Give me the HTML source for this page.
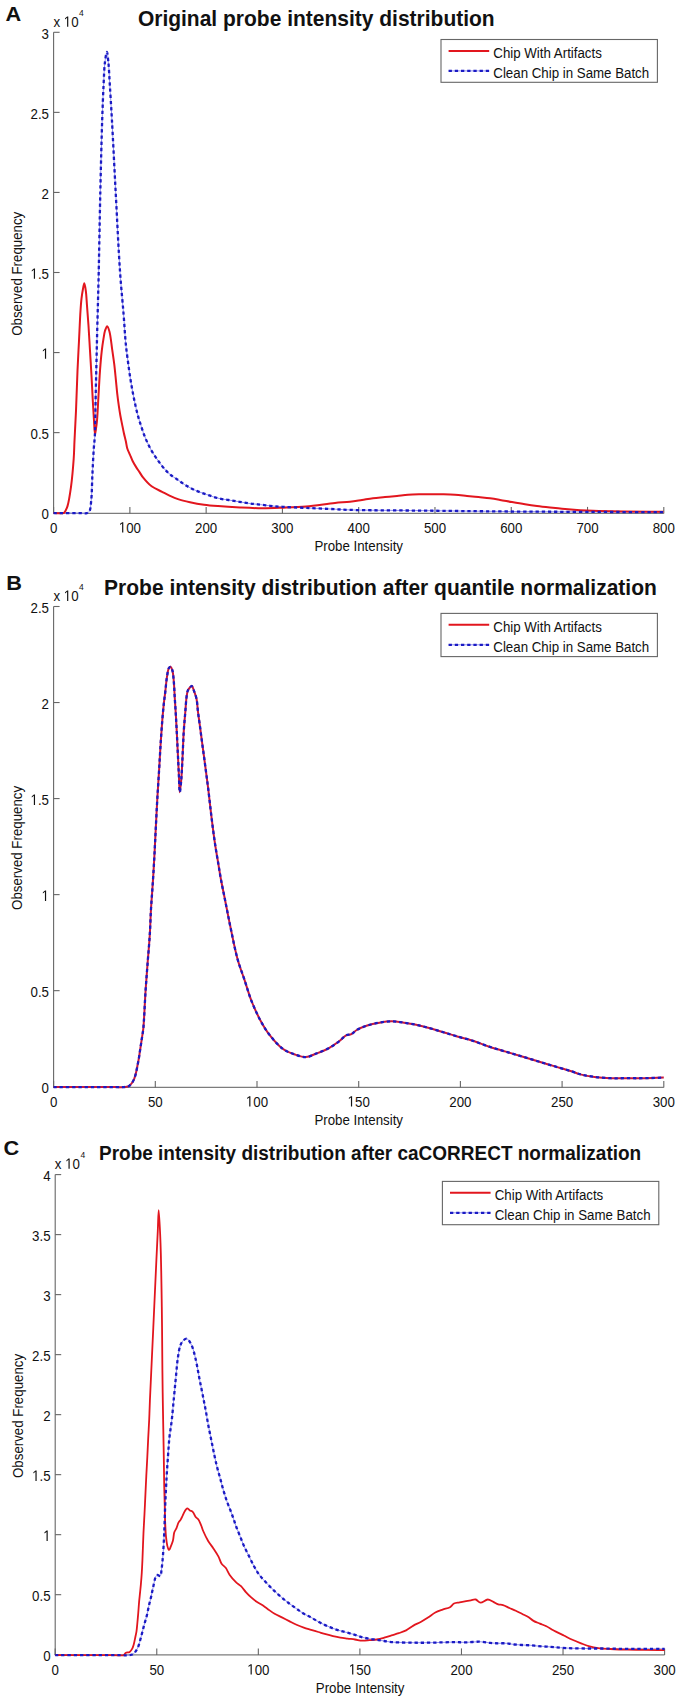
<!DOCTYPE html>
<html><head><meta charset="utf-8"><style>
html,body{margin:0;padding:0;background:#fff;}
svg{display:block;}
text{font-family:"Liberation Sans",sans-serif;font-size:13.3px;fill:#111;}
</style></head><body>
<svg width="685" height="1699" viewBox="0 0 685 1699">
<path d="M53.6,32.3V513.40" fill="none" stroke="#666" stroke-width="1.1"/>
<path d="M53.1,513.40H663.8" fill="none" stroke="#7c7c7c" stroke-width="1.3"/>
<path d="M53.6,512.70h6" stroke="#666" stroke-width="1.1"/>
<text transform="translate(49.00,519.00) scale(1,1.16)" text-anchor="end">0</text>
<path d="M53.6,432.63h6" stroke="#666" stroke-width="1.1"/>
<text transform="translate(49.00,438.93) scale(1,1.16)" text-anchor="end">0.5</text>
<path d="M53.6,352.57h6" stroke="#666" stroke-width="1.1"/>
<text transform="translate(41.60,358.87) scale(1,1.16)"> </text>
<path transform="translate(41.60,358.87) scale(0.006494,-0.007345)" d="M515 0V1237L197 1010V1180L530 1409H696V0Z" fill="#111"/>
<path d="M53.6,272.50h6" stroke="#666" stroke-width="1.1"/>
<text transform="translate(30.51,278.80) scale(1,1.16)"> .5</text>
<path transform="translate(30.51,278.80) scale(0.006494,-0.007345)" d="M515 0V1237L197 1010V1180L530 1409H696V0Z" fill="#111"/>
<path d="M53.6,192.43h6" stroke="#666" stroke-width="1.1"/>
<text transform="translate(49.00,198.73) scale(1,1.16)" text-anchor="end">2</text>
<path d="M53.6,112.37h6" stroke="#666" stroke-width="1.1"/>
<text transform="translate(49.00,118.67) scale(1,1.16)" text-anchor="end">2.5</text>
<path d="M53.6,32.30h6" stroke="#666" stroke-width="1.1"/>
<text transform="translate(49.00,38.60) scale(1,1.16)" text-anchor="end">3</text>
<path d="M53.60,513.40v-6.5" stroke="#666" stroke-width="1.1"/>
<text transform="translate(53.60,532.50) scale(1,1.16)" text-anchor="middle">0</text>
<path d="M129.88,513.40v-6.5" stroke="#666" stroke-width="1.1"/>
<text transform="translate(118.78,532.50) scale(1,1.16)"> 00</text>
<path transform="translate(118.78,532.50) scale(0.006494,-0.007345)" d="M515 0V1237L197 1010V1180L530 1409H696V0Z" fill="#111"/>
<path d="M206.15,513.40v-6.5" stroke="#666" stroke-width="1.1"/>
<text transform="translate(206.15,532.50) scale(1,1.16)" text-anchor="middle">200</text>
<path d="M282.42,513.40v-6.5" stroke="#666" stroke-width="1.1"/>
<text transform="translate(282.42,532.50) scale(1,1.16)" text-anchor="middle">300</text>
<path d="M358.70,513.40v-6.5" stroke="#666" stroke-width="1.1"/>
<text transform="translate(358.70,532.50) scale(1,1.16)" text-anchor="middle">400</text>
<path d="M434.97,513.40v-6.5" stroke="#666" stroke-width="1.1"/>
<text transform="translate(434.97,532.50) scale(1,1.16)" text-anchor="middle">500</text>
<path d="M511.25,513.40v-6.5" stroke="#666" stroke-width="1.1"/>
<text transform="translate(511.25,532.50) scale(1,1.16)" text-anchor="middle">600</text>
<path d="M587.52,513.40v-6.5" stroke="#666" stroke-width="1.1"/>
<text transform="translate(587.52,532.50) scale(1,1.16)" text-anchor="middle">700</text>
<path d="M663.80,513.40v-6.5" stroke="#666" stroke-width="1.1"/>
<text transform="translate(663.80,532.50) scale(1,1.16)" text-anchor="middle">800</text>
<text transform="translate(358.70,550.50) scale(1,1.16)" text-anchor="middle">Probe Intensity</text>
<text transform="translate(21.50,273.80) rotate(-90) scale(1,1.16)" text-anchor="middle">Observed Frequency</text>
<text transform="translate(53.40,26.80) scale(1,1.16)">x  0</text>
<path transform="translate(63.75,26.80) scale(0.006494,-0.007345)" d="M515 0V1237L197 1010V1180L530 1409H696V0Z" fill="#111"/>
<text transform="translate(79.00,15.70) scale(1,1.16)" style="font-size:8.5px">4</text>
<text transform="translate(137.90,26.30) scale(1,1.06)" style="font-weight:bold;font-size:21px">Original probe intensity distribution</text>
<text transform="translate(5.50,21.20) scale(1.06,1)" style="font-weight:bold;font-size:20.5px">A</text>
<path d="M53.60,513.10C62.40,513.10 74.07,513.10 80.00,513.10C83.01,513.10 85.12,513.60 86.80,513.10C87.94,512.76 88.72,512.43 89.40,511.40C90.65,509.49 90.73,505.21 91.20,500.90C91.93,494.13 91.97,483.37 92.40,474.60C92.83,465.83 93.31,455.29 93.80,448.30C94.12,443.65 94.57,440.88 94.80,436.70C95.07,431.80 95.06,426.86 95.20,420.70C95.39,412.26 95.58,400.70 95.80,390.70C96.02,380.70 96.27,370.70 96.50,360.70C96.73,350.70 96.95,340.70 97.20,330.70C97.45,320.70 97.75,310.53 98.00,300.70C98.25,291.21 98.44,284.43 98.70,272.70C99.15,252.88 99.70,218.77 100.30,192.70C100.87,167.76 101.54,139.45 102.20,119.50C102.65,105.70 103.09,94.80 103.60,84.50C104.01,76.35 104.16,68.57 104.90,62.60C105.42,58.41 106.32,51.99 106.90,52.00C107.48,52.01 107.97,58.42 108.40,62.60C109.01,68.58 109.29,76.35 109.80,84.50C110.44,94.80 111.13,105.70 111.90,119.50C113.02,139.45 114.37,167.76 115.70,192.70C117.09,218.78 118.55,250.33 120.10,272.70C121.22,288.88 122.64,302.18 123.60,314.50C124.36,324.25 124.94,334.29 125.50,340.70C125.82,344.42 126.03,346.28 126.40,349.50C126.86,353.44 127.52,358.23 128.10,362.60C128.68,366.97 129.24,371.33 129.90,375.70C130.57,380.10 131.30,384.51 132.10,388.90C132.90,393.28 133.75,397.63 134.70,402.00C135.65,406.40 136.66,410.98 137.80,415.20C138.87,419.16 140.02,422.75 141.30,426.60C142.64,430.61 143.98,434.77 145.70,438.80C147.47,442.94 149.56,447.23 151.80,451.10C153.95,454.81 156.40,458.30 158.80,461.60C161.07,464.71 163.69,468.09 165.80,470.40C167.32,472.06 168.35,473.05 170.00,474.40C172.05,476.07 174.87,477.80 177.30,479.50C179.73,481.20 182.13,483.05 184.60,484.60C187.00,486.11 189.44,487.47 191.90,488.70C194.30,489.90 196.75,490.93 199.20,491.90C201.62,492.86 204.06,493.65 206.50,494.50C208.93,495.35 211.35,496.26 213.80,497.00C216.22,497.73 218.65,498.40 221.10,498.90C223.52,499.40 225.97,499.62 228.40,500.00C230.83,500.38 233.27,500.80 235.70,501.20C238.13,501.60 240.57,502.00 243.00,502.40C245.43,502.80 247.86,503.28 250.30,503.60C252.73,503.92 254.85,504.00 257.60,504.30C261.19,504.69 265.85,505.38 270.00,505.80C274.18,506.22 277.75,506.49 282.60,506.80C289.20,507.22 297.77,507.52 306.00,507.90C315.19,508.32 327.10,508.83 335.20,509.20C340.96,509.46 343.24,509.71 350.00,509.90C364.70,510.32 395.20,510.35 420.00,510.60C448.12,510.88 476.02,511.25 510.00,511.50C554.38,511.82 612.33,511.97 663.50,512.20" fill="none" stroke="#9090f0" stroke-width="1"/>
<path d="M53.60,513.10C57.07,513.00 62.00,513.92 64.00,512.80C65.19,512.13 65.42,510.80 66.00,509.70C66.59,508.57 66.99,507.81 67.50,506.10C68.64,502.25 70.02,493.85 71.00,486.80C72.17,478.35 73.11,467.13 73.70,458.80C74.17,452.12 74.18,447.49 74.50,440.70C74.91,431.96 75.53,421.42 76.00,410.70C76.54,398.33 76.96,383.07 77.50,370.70C77.97,359.98 78.50,350.70 79.00,340.70C79.50,330.70 79.98,318.45 80.50,310.70C80.83,305.80 81.06,302.51 81.50,298.70C81.91,295.21 82.45,291.53 83.00,288.70C83.41,286.58 83.87,283.19 84.30,283.20C84.80,283.21 85.39,287.76 85.80,290.70C86.38,294.83 86.58,300.34 87.00,305.70C87.48,311.89 88.02,318.66 88.50,325.70C89.03,333.57 89.50,342.37 90.00,350.70C90.50,359.03 91.03,367.37 91.50,375.70C91.97,384.03 92.36,392.83 92.80,400.70C93.19,407.74 93.60,414.69 94.00,420.70C94.33,425.64 94.55,434.18 95.00,434.20C95.29,434.22 95.69,430.71 96.00,428.70C96.37,426.29 96.68,424.11 97.00,420.70C97.56,414.68 98.00,404.03 98.50,395.70C99.00,387.37 99.41,378.56 100.00,370.70C100.53,363.66 101.13,356.51 101.80,350.70C102.32,346.18 102.91,342.29 103.50,338.70C103.98,335.76 104.26,332.94 105.00,330.70C105.58,328.94 106.48,326.18 107.20,326.20C107.98,326.22 108.82,329.28 109.50,331.70C110.68,335.92 111.37,343.97 112.20,349.70C112.96,354.93 113.69,359.66 114.30,364.70C114.92,369.79 115.40,375.16 115.90,380.10C116.36,384.67 116.70,388.91 117.20,393.30C117.70,397.68 118.33,402.47 118.90,406.40C119.37,409.63 119.78,412.28 120.30,415.20C120.82,418.11 121.42,420.99 122.00,423.90C122.59,426.83 123.15,429.77 123.80,432.70C124.45,435.64 125.29,438.73 125.90,441.50C126.44,443.96 126.61,446.28 127.30,448.50C127.96,450.64 129.03,452.57 129.90,454.60C130.77,456.63 131.51,458.69 132.50,460.70C133.53,462.79 134.79,464.95 136.00,466.90C137.13,468.73 138.34,470.36 139.50,472.10C140.67,473.86 141.46,475.48 143.00,477.40C145.15,480.08 148.37,483.89 151.60,486.30C154.76,488.66 158.84,490.12 162.10,491.80C164.91,493.25 167.33,494.58 170.00,495.80C172.64,497.01 175.03,498.11 178.00,499.10C181.56,500.29 185.83,501.29 190.00,502.20C194.47,503.17 199.32,504.05 204.00,504.70C208.65,505.35 212.80,505.68 218.00,506.10C224.50,506.63 232.66,507.13 240.00,507.50C247.33,507.87 254.75,508.27 262.00,508.30C269.08,508.33 275.84,507.99 283.00,507.70C290.49,507.40 297.90,507.20 306.00,506.50C315.12,505.71 326.91,503.84 335.00,503.00C340.81,502.40 345.29,502.26 350.00,501.70C354.23,501.20 358.09,500.50 362.00,499.90C365.75,499.33 369.25,498.66 373.00,498.20C376.91,497.72 381.00,497.48 385.00,497.10C389.00,496.72 393.09,496.31 397.00,495.90C400.75,495.51 404.25,494.97 408.00,494.70C411.91,494.42 416.00,494.37 420.00,494.30C424.00,494.23 428.04,494.30 432.00,494.30C435.87,494.30 439.67,494.23 443.50,494.30C447.33,494.37 451.13,494.44 455.00,494.70C458.96,494.97 463.04,495.50 467.00,495.90C470.87,496.30 474.67,496.70 478.50,497.10C482.33,497.50 486.31,497.81 490.00,498.30C493.46,498.76 496.52,499.30 500.00,499.90C503.82,500.56 507.92,501.38 512.00,502.10C516.24,502.85 520.75,503.64 525.00,504.30C529.08,504.93 532.92,505.48 537.00,506.00C541.24,506.55 545.75,507.04 550.00,507.50C554.08,507.94 558.00,508.33 562.00,508.70C566.00,509.07 569.92,509.40 574.00,509.70C578.24,510.01 582.75,510.28 587.00,510.50C591.08,510.71 594.27,510.85 599.00,511.00C605.82,511.21 614.72,511.38 624.00,511.50C635.67,511.65 650.33,511.63 663.50,511.70" fill="none" stroke="#e2161e" stroke-width="2.0" stroke-linejoin="round"/>
<path d="M53.60,513.10C62.40,513.10 74.07,513.10 80.00,513.10C83.01,513.10 85.12,513.60 86.80,513.10C87.94,512.76 88.72,512.43 89.40,511.40C90.65,509.49 90.73,505.21 91.20,500.90C91.93,494.13 91.97,483.37 92.40,474.60C92.83,465.83 93.31,455.29 93.80,448.30C94.12,443.65 94.57,440.88 94.80,436.70C95.07,431.80 95.06,426.86 95.20,420.70C95.39,412.26 95.58,400.70 95.80,390.70C96.02,380.70 96.27,370.70 96.50,360.70C96.73,350.70 96.95,340.70 97.20,330.70C97.45,320.70 97.75,310.53 98.00,300.70C98.25,291.21 98.44,284.43 98.70,272.70C99.15,252.88 99.70,218.77 100.30,192.70C100.87,167.76 101.54,139.45 102.20,119.50C102.65,105.70 103.09,94.80 103.60,84.50C104.01,76.35 104.16,68.57 104.90,62.60C105.42,58.41 106.32,51.99 106.90,52.00C107.48,52.01 107.97,58.42 108.40,62.60C109.01,68.58 109.29,76.35 109.80,84.50C110.44,94.80 111.13,105.70 111.90,119.50C113.02,139.45 114.37,167.76 115.70,192.70C117.09,218.78 118.55,250.33 120.10,272.70C121.22,288.88 122.64,302.18 123.60,314.50C124.36,324.25 124.94,334.29 125.50,340.70C125.82,344.42 126.03,346.28 126.40,349.50C126.86,353.44 127.52,358.23 128.10,362.60C128.68,366.97 129.24,371.33 129.90,375.70C130.57,380.10 131.30,384.51 132.10,388.90C132.90,393.28 133.75,397.63 134.70,402.00C135.65,406.40 136.66,410.98 137.80,415.20C138.87,419.16 140.02,422.75 141.30,426.60C142.64,430.61 143.98,434.77 145.70,438.80C147.47,442.94 149.56,447.23 151.80,451.10C153.95,454.81 156.40,458.30 158.80,461.60C161.07,464.71 163.69,468.09 165.80,470.40C167.32,472.06 168.35,473.05 170.00,474.40C172.05,476.07 174.87,477.80 177.30,479.50C179.73,481.20 182.13,483.05 184.60,484.60C187.00,486.11 189.44,487.47 191.90,488.70C194.30,489.90 196.75,490.93 199.20,491.90C201.62,492.86 204.06,493.65 206.50,494.50C208.93,495.35 211.35,496.26 213.80,497.00C216.22,497.73 218.65,498.40 221.10,498.90C223.52,499.40 225.97,499.62 228.40,500.00C230.83,500.38 233.27,500.80 235.70,501.20C238.13,501.60 240.57,502.00 243.00,502.40C245.43,502.80 247.86,503.28 250.30,503.60C252.73,503.92 254.85,504.00 257.60,504.30C261.19,504.69 265.85,505.38 270.00,505.80C274.18,506.22 277.75,506.49 282.60,506.80C289.20,507.22 297.77,507.52 306.00,507.90C315.19,508.32 327.10,508.83 335.20,509.20C340.96,509.46 343.24,509.71 350.00,509.90C364.70,510.32 395.20,510.35 420.00,510.60C448.12,510.88 476.02,511.25 510.00,511.50C554.38,511.82 612.33,511.97 663.50,512.20" fill="none" stroke="#1a1ac4" stroke-width="2.3" stroke-dasharray="3.3 2.9"/>
<rect x="441" y="39.5" width="216.40" height="42.80" fill="#fff" stroke="#666" stroke-width="1.1"/>
<path d="M448.60,50.90h40.6" stroke="#e2161e" stroke-width="2.0"/>
<path d="M448.60,70.90h40.6" stroke="#9090f0" stroke-width="1"/>
<path d="M448.60,70.90h40.6" stroke="#1a1ac4" stroke-width="2.3" stroke-dasharray="3.3 2.9"/>
<text transform="translate(493.30,57.70) scale(1,1.16)">Chip With Artifacts</text>
<text transform="translate(493.30,78.00) scale(1,1.16)">Clean Chip in Same Batch</text>
<path d="M53.6,606.5V1087.40" fill="none" stroke="#666" stroke-width="1.1"/>
<path d="M53.1,1087.40H663.8" fill="none" stroke="#7c7c7c" stroke-width="1.3"/>
<path d="M53.6,1086.70h6" stroke="#666" stroke-width="1.1"/>
<text transform="translate(49.00,1093.00) scale(1,1.16)" text-anchor="end">0</text>
<path d="M53.6,990.66h6" stroke="#666" stroke-width="1.1"/>
<text transform="translate(49.00,996.96) scale(1,1.16)" text-anchor="end">0.5</text>
<path d="M53.6,894.62h6" stroke="#666" stroke-width="1.1"/>
<text transform="translate(41.60,900.92) scale(1,1.16)"> </text>
<path transform="translate(41.60,900.92) scale(0.006494,-0.007345)" d="M515 0V1237L197 1010V1180L530 1409H696V0Z" fill="#111"/>
<path d="M53.6,798.58h6" stroke="#666" stroke-width="1.1"/>
<text transform="translate(30.51,804.88) scale(1,1.16)"> .5</text>
<path transform="translate(30.51,804.88) scale(0.006494,-0.007345)" d="M515 0V1237L197 1010V1180L530 1409H696V0Z" fill="#111"/>
<path d="M53.6,702.54h6" stroke="#666" stroke-width="1.1"/>
<text transform="translate(49.00,708.84) scale(1,1.16)" text-anchor="end">2</text>
<path d="M53.6,606.50h6" stroke="#666" stroke-width="1.1"/>
<text transform="translate(49.00,612.80) scale(1,1.16)" text-anchor="end">2.5</text>
<path d="M53.60,1087.40v-6.5" stroke="#666" stroke-width="1.1"/>
<text transform="translate(53.60,1106.50) scale(1,1.16)" text-anchor="middle">0</text>
<path d="M155.30,1087.40v-6.5" stroke="#666" stroke-width="1.1"/>
<text transform="translate(155.30,1106.50) scale(1,1.16)" text-anchor="middle">50</text>
<path d="M257.00,1087.40v-6.5" stroke="#666" stroke-width="1.1"/>
<text transform="translate(245.90,1106.50) scale(1,1.16)"> 00</text>
<path transform="translate(245.90,1106.50) scale(0.006494,-0.007345)" d="M515 0V1237L197 1010V1180L530 1409H696V0Z" fill="#111"/>
<path d="M358.70,1087.40v-6.5" stroke="#666" stroke-width="1.1"/>
<text transform="translate(347.60,1106.50) scale(1,1.16)"> 50</text>
<path transform="translate(347.60,1106.50) scale(0.006494,-0.007345)" d="M515 0V1237L197 1010V1180L530 1409H696V0Z" fill="#111"/>
<path d="M460.40,1087.40v-6.5" stroke="#666" stroke-width="1.1"/>
<text transform="translate(460.40,1106.50) scale(1,1.16)" text-anchor="middle">200</text>
<path d="M562.10,1087.40v-6.5" stroke="#666" stroke-width="1.1"/>
<text transform="translate(562.10,1106.50) scale(1,1.16)" text-anchor="middle">250</text>
<path d="M663.80,1087.40v-6.5" stroke="#666" stroke-width="1.1"/>
<text transform="translate(663.80,1106.50) scale(1,1.16)" text-anchor="middle">300</text>
<text transform="translate(358.70,1124.60) scale(1,1.16)" text-anchor="middle">Probe Intensity</text>
<text transform="translate(21.50,847.90) rotate(-90) scale(1,1.16)" text-anchor="middle">Observed Frequency</text>
<text transform="translate(53.40,600.90) scale(1,1.16)">x  0</text>
<path transform="translate(63.75,600.90) scale(0.006494,-0.007345)" d="M515 0V1237L197 1010V1180L530 1409H696V0Z" fill="#111"/>
<text transform="translate(79.00,589.80) scale(1,1.16)" style="font-size:8.5px">4</text>
<text transform="translate(104.10,595.00) scale(1,1.06)" style="font-weight:bold;font-size:21px">Probe intensity distribution after quantile normalization</text>
<text transform="translate(6.30,589.60) scale(1.06,1)" style="font-weight:bold;font-size:20.5px">B</text>
<path d="M53.60,1087.10C74.40,1087.10 105.03,1087.10 116.00,1087.10C119.93,1087.10 122.09,1087.21 124.00,1087.10C125.07,1087.04 125.68,1086.98 126.50,1086.80C127.34,1086.62 128.20,1086.50 129.00,1086.00C130.01,1085.37 131.06,1084.13 131.90,1083.00C132.77,1081.83 133.47,1080.57 134.10,1079.10C134.84,1077.39 135.37,1075.36 135.90,1073.30C136.49,1071.02 136.92,1068.43 137.40,1066.00C137.88,1063.57 138.38,1061.14 138.80,1058.70C139.22,1056.27 139.53,1053.83 139.90,1051.40C140.27,1048.97 140.63,1046.53 141.00,1044.10C141.37,1041.67 141.73,1039.30 142.10,1036.80C142.49,1034.17 142.91,1032.41 143.30,1028.70C144.14,1020.64 144.82,1001.91 145.60,990.20C146.26,980.37 146.92,972.12 147.60,963.10C148.28,954.09 149.13,945.11 149.70,936.10C150.27,927.08 150.51,917.38 151.00,909.00C151.42,901.74 151.95,895.47 152.40,888.70C152.85,881.93 153.30,875.17 153.70,868.40C154.10,861.63 154.45,854.87 154.80,848.10C155.15,841.33 155.43,835.05 155.80,827.80C156.22,819.42 156.67,810.14 157.20,800.70C157.79,790.36 158.59,778.38 159.20,768.20C159.74,759.19 160.17,750.93 160.70,742.70C161.20,734.96 161.74,727.11 162.30,720.20C162.78,714.30 163.26,708.86 163.80,703.80C164.27,699.43 164.80,695.83 165.30,691.60C165.84,687.02 166.21,681.53 166.90,677.30C167.46,673.88 167.94,669.71 168.90,668.10C169.34,667.36 169.92,666.72 170.40,666.80C171.07,666.91 171.80,668.63 172.30,670.10C173.12,672.51 173.32,676.49 173.70,680.30C174.18,685.11 174.36,691.15 174.70,696.70C175.05,702.41 175.45,708.23 175.80,714.10C176.15,720.12 176.48,726.13 176.80,732.40C177.14,739.04 177.47,746.08 177.80,752.90C178.13,759.71 178.46,766.63 178.80,773.30C179.13,779.72 179.32,792.18 179.80,792.20C180.18,792.21 180.80,785.04 181.20,780.50C181.76,774.22 182.09,765.74 182.50,758.00C182.93,749.74 183.20,740.45 183.70,732.40C184.15,725.21 184.78,718.31 185.30,712.00C185.75,706.53 186.05,700.64 186.60,696.70C186.95,694.20 187.12,692.24 187.80,690.60C188.33,689.33 189.14,688.30 189.90,687.50C190.52,686.85 191.31,685.85 191.90,686.00C192.73,686.22 193.23,688.83 193.90,690.60C194.77,692.90 195.84,695.63 196.50,698.70C197.33,702.55 197.43,707.42 198.00,712.00C198.62,716.93 199.42,722.19 200.10,727.30C200.78,732.42 201.42,737.58 202.10,742.70C202.78,747.81 203.52,752.90 204.20,758.00C204.88,763.10 205.53,768.19 206.20,773.30C206.87,778.42 207.47,782.78 208.20,788.70C209.19,796.75 210.34,807.88 211.50,817.20C212.62,826.20 213.76,835.37 215.00,843.70C216.11,851.17 217.43,858.47 218.50,864.90C219.40,870.28 220.02,874.40 221.00,879.70C222.14,885.87 223.56,892.50 225.00,899.70C226.69,908.16 228.50,917.80 230.50,927.30C232.64,937.49 234.90,949.50 237.50,958.90C239.65,966.67 242.17,972.89 244.50,979.90C246.84,986.92 248.82,994.20 251.50,1001.00C254.11,1007.62 257.17,1014.38 260.30,1020.20C263.08,1025.36 265.55,1029.73 269.10,1034.30C273.02,1039.35 278.25,1045.54 283.10,1049.00C287.04,1051.82 291.32,1053.23 295.30,1054.60C298.87,1055.83 302.32,1057.26 305.80,1057.10C309.35,1056.93 312.77,1054.89 316.40,1053.50C320.35,1051.99 324.78,1050.37 328.60,1048.30C332.33,1046.28 336.02,1043.64 339.10,1041.30C341.74,1039.30 343.78,1036.46 346.10,1035.30C347.88,1034.41 349.72,1034.89 351.40,1034.10C353.27,1033.22 354.54,1031.27 356.70,1030.00C359.52,1028.34 363.51,1026.70 367.20,1025.50C371.06,1024.24 375.31,1023.40 379.40,1022.70C383.47,1022.00 387.60,1021.30 391.70,1021.30C395.80,1021.30 399.92,1022.12 404.00,1022.70C408.08,1023.28 412.01,1023.92 416.20,1024.80C420.72,1025.75 425.55,1027.02 430.20,1028.30C434.88,1029.59 439.69,1031.14 444.20,1032.50C448.41,1033.77 452.02,1034.93 456.40,1036.20C461.48,1037.68 467.44,1039.06 472.90,1040.80C478.41,1042.56 483.81,1044.89 489.30,1046.70C494.74,1048.49 500.23,1049.97 505.70,1051.60C511.17,1053.23 516.63,1054.85 522.10,1056.50C527.59,1058.15 533.11,1059.85 538.60,1061.50C544.07,1063.15 549.53,1064.77 555.00,1066.40C560.47,1068.03 566.63,1069.79 571.40,1071.30C575.12,1072.48 577.73,1073.70 581.30,1074.60C585.33,1075.62 589.77,1076.31 594.40,1076.90C599.55,1077.55 605.32,1077.98 610.80,1078.20C616.29,1078.42 621.81,1078.20 627.30,1078.20C632.77,1078.20 637.96,1078.29 643.70,1078.20C650.06,1078.11 657.10,1077.80 663.80,1077.60" fill="none" stroke="#c8183c" stroke-width="2.0" stroke-linejoin="round"/>
<path d="M53.60,1087.10C74.40,1087.10 105.03,1087.10 116.00,1087.10C119.93,1087.10 122.09,1087.21 124.00,1087.10C125.07,1087.04 125.68,1086.98 126.50,1086.80C127.34,1086.62 128.20,1086.50 129.00,1086.00C130.01,1085.37 131.06,1084.13 131.90,1083.00C132.77,1081.83 133.47,1080.57 134.10,1079.10C134.84,1077.39 135.37,1075.36 135.90,1073.30C136.49,1071.02 136.92,1068.43 137.40,1066.00C137.88,1063.57 138.38,1061.14 138.80,1058.70C139.22,1056.27 139.53,1053.83 139.90,1051.40C140.27,1048.97 140.63,1046.53 141.00,1044.10C141.37,1041.67 141.73,1039.30 142.10,1036.80C142.49,1034.17 142.91,1032.41 143.30,1028.70C144.14,1020.64 144.82,1001.91 145.60,990.20C146.26,980.37 146.92,972.12 147.60,963.10C148.28,954.09 149.13,945.11 149.70,936.10C150.27,927.08 150.51,917.38 151.00,909.00C151.42,901.74 151.95,895.47 152.40,888.70C152.85,881.93 153.30,875.17 153.70,868.40C154.10,861.63 154.45,854.87 154.80,848.10C155.15,841.33 155.43,835.05 155.80,827.80C156.22,819.42 156.67,810.14 157.20,800.70C157.79,790.36 158.59,778.38 159.20,768.20C159.74,759.19 160.17,750.93 160.70,742.70C161.20,734.96 161.74,727.11 162.30,720.20C162.78,714.30 163.26,708.86 163.80,703.80C164.27,699.43 164.80,695.83 165.30,691.60C165.84,687.02 166.21,681.53 166.90,677.30C167.46,673.88 167.94,669.71 168.90,668.10C169.34,667.36 169.92,666.72 170.40,666.80C171.07,666.91 171.80,668.63 172.30,670.10C173.12,672.51 173.32,676.49 173.70,680.30C174.18,685.11 174.36,691.15 174.70,696.70C175.05,702.41 175.45,708.23 175.80,714.10C176.15,720.12 176.48,726.13 176.80,732.40C177.14,739.04 177.47,746.08 177.80,752.90C178.13,759.71 178.46,766.63 178.80,773.30C179.13,779.72 179.32,792.18 179.80,792.20C180.18,792.21 180.80,785.04 181.20,780.50C181.76,774.22 182.09,765.74 182.50,758.00C182.93,749.74 183.20,740.45 183.70,732.40C184.15,725.21 184.78,718.31 185.30,712.00C185.75,706.53 186.05,700.64 186.60,696.70C186.95,694.20 187.12,692.24 187.80,690.60C188.33,689.33 189.14,688.30 189.90,687.50C190.52,686.85 191.31,685.85 191.90,686.00C192.73,686.22 193.23,688.83 193.90,690.60C194.77,692.90 195.84,695.63 196.50,698.70C197.33,702.55 197.43,707.42 198.00,712.00C198.62,716.93 199.42,722.19 200.10,727.30C200.78,732.42 201.42,737.58 202.10,742.70C202.78,747.81 203.52,752.90 204.20,758.00C204.88,763.10 205.53,768.19 206.20,773.30C206.87,778.42 207.47,782.78 208.20,788.70C209.19,796.75 210.34,807.88 211.50,817.20C212.62,826.20 213.76,835.37 215.00,843.70C216.11,851.17 217.43,858.47 218.50,864.90C219.40,870.28 220.02,874.40 221.00,879.70C222.14,885.87 223.56,892.50 225.00,899.70C226.69,908.16 228.50,917.80 230.50,927.30C232.64,937.49 234.90,949.50 237.50,958.90C239.65,966.67 242.17,972.89 244.50,979.90C246.84,986.92 248.82,994.20 251.50,1001.00C254.11,1007.62 257.17,1014.38 260.30,1020.20C263.08,1025.36 265.55,1029.73 269.10,1034.30C273.02,1039.35 278.25,1045.54 283.10,1049.00C287.04,1051.82 291.32,1053.23 295.30,1054.60C298.87,1055.83 302.32,1057.26 305.80,1057.10C309.35,1056.93 312.77,1054.89 316.40,1053.50C320.35,1051.99 324.78,1050.37 328.60,1048.30C332.33,1046.28 336.02,1043.64 339.10,1041.30C341.74,1039.30 343.78,1036.46 346.10,1035.30C347.88,1034.41 349.72,1034.89 351.40,1034.10C353.27,1033.22 354.54,1031.27 356.70,1030.00C359.52,1028.34 363.51,1026.70 367.20,1025.50C371.06,1024.24 375.31,1023.40 379.40,1022.70C383.47,1022.00 387.60,1021.30 391.70,1021.30C395.80,1021.30 399.92,1022.12 404.00,1022.70C408.08,1023.28 412.01,1023.92 416.20,1024.80C420.72,1025.75 425.55,1027.02 430.20,1028.30C434.88,1029.59 439.69,1031.14 444.20,1032.50C448.41,1033.77 452.02,1034.93 456.40,1036.20C461.48,1037.68 467.44,1039.06 472.90,1040.80C478.41,1042.56 483.81,1044.89 489.30,1046.70C494.74,1048.49 500.23,1049.97 505.70,1051.60C511.17,1053.23 516.63,1054.85 522.10,1056.50C527.59,1058.15 533.11,1059.85 538.60,1061.50C544.07,1063.15 549.53,1064.77 555.00,1066.40C560.47,1068.03 566.63,1069.79 571.40,1071.30C575.12,1072.48 577.73,1073.70 581.30,1074.60C585.33,1075.62 589.77,1076.31 594.40,1076.90C599.55,1077.55 605.32,1077.98 610.80,1078.20C616.29,1078.42 621.81,1078.20 627.30,1078.20C632.77,1078.20 637.96,1078.29 643.70,1078.20C650.06,1078.11 657.10,1077.80 663.80,1077.60" fill="none" stroke="#1a1ac4" stroke-width="2.3" stroke-dasharray="3.3 2.9"/>
<rect x="441" y="613.4" width="216.40" height="43.20" fill="#fff" stroke="#666" stroke-width="1.1"/>
<path d="M448.60,624.80h40.6" stroke="#e2161e" stroke-width="2.0"/>
<path d="M448.60,644.80h40.6" stroke="#9090f0" stroke-width="1"/>
<path d="M448.60,644.80h40.6" stroke="#1a1ac4" stroke-width="2.3" stroke-dasharray="3.3 2.9"/>
<text transform="translate(493.30,631.60) scale(1,1.16)">Chip With Artifacts</text>
<text transform="translate(493.30,651.90) scale(1,1.16)">Clean Chip in Same Batch</text>
<path d="M55.2,1174.6V1654.90" fill="none" stroke="#666" stroke-width="1.1"/>
<path d="M54.7,1654.90H664.6" fill="none" stroke="#7c7c7c" stroke-width="1.3"/>
<path d="M55.2,1654.70h6" stroke="#666" stroke-width="1.1"/>
<text transform="translate(50.60,1661.00) scale(1,1.16)" text-anchor="end">0</text>
<path d="M55.2,1594.69h6" stroke="#666" stroke-width="1.1"/>
<text transform="translate(50.60,1600.99) scale(1,1.16)" text-anchor="end">0.5</text>
<path d="M55.2,1534.67h6" stroke="#666" stroke-width="1.1"/>
<text transform="translate(43.20,1540.97) scale(1,1.16)"> </text>
<path transform="translate(43.20,1540.97) scale(0.006494,-0.007345)" d="M515 0V1237L197 1010V1180L530 1409H696V0Z" fill="#111"/>
<path d="M55.2,1474.66h6" stroke="#666" stroke-width="1.1"/>
<text transform="translate(32.11,1480.96) scale(1,1.16)"> .5</text>
<path transform="translate(32.11,1480.96) scale(0.006494,-0.007345)" d="M515 0V1237L197 1010V1180L530 1409H696V0Z" fill="#111"/>
<path d="M55.2,1414.65h6" stroke="#666" stroke-width="1.1"/>
<text transform="translate(50.60,1420.95) scale(1,1.16)" text-anchor="end">2</text>
<path d="M55.2,1354.64h6" stroke="#666" stroke-width="1.1"/>
<text transform="translate(50.60,1360.94) scale(1,1.16)" text-anchor="end">2.5</text>
<path d="M55.2,1294.62h6" stroke="#666" stroke-width="1.1"/>
<text transform="translate(50.60,1300.92) scale(1,1.16)" text-anchor="end">3</text>
<path d="M55.2,1234.61h6" stroke="#666" stroke-width="1.1"/>
<text transform="translate(50.60,1240.91) scale(1,1.16)" text-anchor="end">3.5</text>
<path d="M55.2,1174.60h6" stroke="#666" stroke-width="1.1"/>
<text transform="translate(50.60,1180.90) scale(1,1.16)" text-anchor="end">4</text>
<path d="M55.20,1654.90v-6.5" stroke="#666" stroke-width="1.1"/>
<text transform="translate(55.20,1674.50) scale(1,1.16)" text-anchor="middle">0</text>
<path d="M156.77,1654.90v-6.5" stroke="#666" stroke-width="1.1"/>
<text transform="translate(156.77,1674.50) scale(1,1.16)" text-anchor="middle">50</text>
<path d="M258.33,1654.90v-6.5" stroke="#666" stroke-width="1.1"/>
<text transform="translate(247.24,1674.50) scale(1,1.16)"> 00</text>
<path transform="translate(247.24,1674.50) scale(0.006494,-0.007345)" d="M515 0V1237L197 1010V1180L530 1409H696V0Z" fill="#111"/>
<path d="M359.90,1654.90v-6.5" stroke="#666" stroke-width="1.1"/>
<text transform="translate(348.80,1674.50) scale(1,1.16)"> 50</text>
<path transform="translate(348.80,1674.50) scale(0.006494,-0.007345)" d="M515 0V1237L197 1010V1180L530 1409H696V0Z" fill="#111"/>
<path d="M461.47,1654.90v-6.5" stroke="#666" stroke-width="1.1"/>
<text transform="translate(461.47,1674.50) scale(1,1.16)" text-anchor="middle">200</text>
<path d="M563.03,1654.90v-6.5" stroke="#666" stroke-width="1.1"/>
<text transform="translate(563.03,1674.50) scale(1,1.16)" text-anchor="middle">250</text>
<path d="M664.60,1654.90v-6.5" stroke="#666" stroke-width="1.1"/>
<text transform="translate(664.60,1674.50) scale(1,1.16)" text-anchor="middle">300</text>
<text transform="translate(360.10,1692.50) scale(1,1.16)" text-anchor="middle">Probe Intensity</text>
<text transform="translate(22.90,1415.95) rotate(-90) scale(1,1.16)" text-anchor="middle">Observed Frequency</text>
<text transform="translate(54.80,1168.80) scale(1,1.16)">x  0</text>
<path transform="translate(65.15,1168.80) scale(0.006494,-0.007345)" d="M515 0V1237L197 1010V1180L530 1409H696V0Z" fill="#111"/>
<text transform="translate(80.40,1157.70) scale(1,1.16)" style="font-size:8.5px">4</text>
<text transform="translate(99.00,1159.60) scale(1,1.06)" style="font-weight:bold;font-size:19px">Probe intensity distribution after caCORRECT normalization</text>
<text transform="translate(3.50,1155.20) scale(1.06,1)" style="font-weight:bold;font-size:20.5px">C</text>
<path d="M55.20,1655.20C77.13,1655.20 109.61,1655.20 121.00,1655.20C125.00,1655.20 126.85,1655.56 129.10,1655.20C130.78,1654.93 132.11,1654.73 133.40,1653.80C135.02,1652.63 136.42,1650.44 137.60,1648.10C139.13,1645.07 140.03,1640.58 141.10,1636.80C142.16,1633.05 143.02,1629.14 144.00,1625.50C144.92,1622.09 145.98,1618.91 146.80,1615.60C147.61,1612.31 148.17,1608.86 148.90,1605.70C149.57,1602.78 150.33,1600.22 151.00,1597.30C151.73,1594.14 152.30,1590.80 153.10,1587.40C153.96,1583.75 154.87,1577.83 156.00,1576.10C156.44,1575.42 156.82,1575.08 157.40,1575.00C158.15,1574.89 159.51,1576.48 160.20,1576.10C161.26,1575.52 161.19,1571.78 161.60,1569.00C162.18,1565.11 162.60,1560.08 163.00,1554.90C163.49,1548.56 163.85,1541.27 164.20,1533.70C164.60,1524.97 164.80,1514.91 165.20,1505.50C165.60,1496.07 166.09,1485.95 166.60,1477.20C167.04,1469.62 167.51,1462.81 168.00,1456.00C168.45,1449.67 168.77,1443.68 169.40,1437.70C170.01,1431.92 171.00,1426.80 171.70,1420.70C172.52,1413.64 173.19,1405.15 173.90,1397.80C174.56,1390.99 175.15,1384.67 175.80,1378.10C176.45,1371.53 176.92,1364.28 177.80,1358.40C178.52,1353.57 179.13,1348.57 180.40,1345.30C181.25,1343.11 182.23,1341.30 183.50,1340.20C184.52,1339.32 185.88,1338.38 187.00,1338.70C188.63,1339.17 190.30,1342.60 191.60,1345.30C193.30,1348.82 194.28,1353.42 195.50,1358.40C197.07,1364.82 198.60,1374.71 199.80,1380.70C200.61,1384.76 201.22,1387.50 201.90,1390.90C202.58,1394.30 203.23,1397.69 203.90,1401.10C204.57,1404.52 205.24,1407.82 205.90,1411.40C206.61,1415.29 207.29,1419.72 208.00,1423.60C208.65,1427.16 209.32,1430.39 210.00,1433.80C210.69,1437.23 211.37,1440.52 212.10,1444.10C212.90,1447.99 213.73,1452.32 214.60,1456.30C215.44,1460.14 216.25,1463.85 217.20,1467.60C218.15,1471.35 219.28,1475.06 220.30,1478.80C221.32,1482.53 222.21,1486.27 223.30,1490.00C224.41,1493.77 225.64,1497.75 226.90,1501.30C228.05,1504.54 229.37,1507.52 230.50,1510.50C231.56,1513.31 232.57,1516.05 233.50,1518.70C234.36,1521.17 234.95,1523.31 235.90,1525.90C237.05,1529.02 238.63,1532.70 240.00,1536.10C241.37,1539.50 242.59,1542.92 244.10,1546.30C245.65,1549.76 247.50,1553.18 249.20,1556.60C250.90,1560.01 252.52,1563.64 254.30,1566.80C255.93,1569.70 257.39,1572.22 259.40,1574.90C261.64,1577.89 264.68,1581.02 267.30,1583.80C269.74,1586.39 272.14,1588.76 274.60,1591.10C277.00,1593.39 279.43,1595.61 281.90,1597.70C284.30,1599.74 286.74,1601.65 289.20,1603.50C291.61,1605.31 294.06,1606.98 296.50,1608.70C298.93,1610.41 301.31,1612.33 303.80,1613.80C306.18,1615.21 308.69,1616.08 311.10,1617.40C313.56,1618.75 315.94,1620.45 318.40,1621.80C320.81,1623.12 323.25,1624.29 325.70,1625.40C328.11,1626.49 330.55,1627.50 333.00,1628.40C335.42,1629.29 337.86,1630.08 340.30,1630.80C342.72,1631.51 345.16,1632.04 347.60,1632.70C350.06,1633.37 352.55,1634.03 355.00,1634.80C357.45,1635.57 359.85,1636.63 362.30,1637.30C364.71,1637.96 367.16,1638.38 369.60,1638.80C372.03,1639.22 374.47,1639.43 376.90,1639.80C379.34,1640.17 381.77,1640.62 384.20,1641.00C386.63,1641.38 389.06,1641.87 391.50,1642.10C393.93,1642.33 395.95,1642.31 398.80,1642.40C402.83,1642.52 408.53,1642.65 413.40,1642.70C418.27,1642.75 423.13,1642.75 428.00,1642.70C432.87,1642.65 437.93,1642.50 442.60,1642.40C446.90,1642.30 450.98,1642.09 455.00,1642.10C458.80,1642.11 462.21,1642.45 466.10,1642.40C470.40,1642.35 475.48,1641.57 479.70,1641.70C483.40,1641.82 486.85,1642.63 490.10,1642.90C492.96,1643.14 495.51,1643.23 498.20,1643.30C500.87,1643.37 503.54,1643.10 506.20,1643.30C508.87,1643.50 511.52,1644.22 514.20,1644.50C516.89,1644.78 519.61,1644.87 522.30,1645.00C524.97,1645.13 527.64,1645.12 530.30,1645.30C532.97,1645.48 535.62,1645.88 538.30,1646.10C540.99,1646.32 543.71,1646.42 546.40,1646.60C549.08,1646.78 551.42,1646.98 554.40,1647.20C558.17,1647.47 562.61,1647.89 567.20,1648.10C572.53,1648.35 578.74,1648.43 584.50,1648.50C590.24,1648.57 595.97,1648.45 601.70,1648.50C607.43,1648.55 613.17,1648.75 618.90,1648.80C624.63,1648.85 630.36,1648.80 636.10,1648.80C641.86,1648.80 648.26,1648.80 653.40,1648.80C657.54,1648.80 660.87,1648.80 664.60,1648.80" fill="none" stroke="#9090f0" stroke-width="1"/>
<path d="M55.20,1655.20C74.47,1655.17 101.37,1655.11 113.00,1655.10C118.03,1655.10 121.81,1656.04 123.80,1655.10C124.82,1654.62 124.76,1653.43 125.60,1652.90C126.62,1652.26 128.60,1652.60 129.70,1651.90C130.75,1651.23 131.44,1650.07 132.10,1648.90C132.85,1647.56 133.30,1645.94 133.80,1644.20C134.40,1642.12 134.83,1639.43 135.30,1637.20C135.73,1635.15 136.17,1633.47 136.50,1631.30C136.90,1628.67 137.12,1625.44 137.40,1622.50C137.68,1619.54 137.94,1616.77 138.20,1613.60C138.50,1609.97 138.78,1605.52 139.10,1601.90C139.38,1598.76 139.70,1596.04 140.00,1593.10C140.30,1590.14 140.62,1587.37 140.90,1584.20C141.22,1580.57 141.55,1576.41 141.80,1572.50C142.05,1568.58 142.19,1565.48 142.40,1560.70C142.73,1553.32 143.11,1540.95 143.50,1532.50C143.82,1525.60 144.18,1519.97 144.50,1513.70C144.82,1507.43 145.10,1501.17 145.40,1494.90C145.70,1488.61 145.98,1482.29 146.30,1476.00C146.62,1469.72 146.98,1463.47 147.30,1457.20C147.62,1450.93 147.88,1444.67 148.20,1438.40C148.52,1432.11 148.92,1425.79 149.20,1419.50C149.48,1413.23 149.55,1409.01 149.90,1400.70C150.59,1384.32 152.20,1351.60 153.30,1327.70C154.36,1304.63 155.56,1277.61 156.40,1259.70C156.95,1248.00 157.39,1239.53 157.80,1230.70C158.14,1223.28 158.32,1210.20 158.70,1210.20C159.18,1210.20 160.02,1230.04 160.50,1242.70C161.17,1260.45 161.48,1285.41 161.80,1306.70C162.12,1327.91 162.20,1352.87 162.40,1370.20C162.54,1382.21 162.65,1390.73 162.80,1400.70C162.95,1410.28 163.13,1419.49 163.30,1428.90C163.47,1438.32 163.65,1447.77 163.80,1457.20C163.95,1466.61 164.03,1476.94 164.20,1485.40C164.34,1492.33 164.53,1498.01 164.70,1504.30C164.87,1510.57 164.95,1517.34 165.20,1523.10C165.41,1528.00 165.59,1532.64 166.00,1536.70C166.34,1540.02 166.74,1543.36 167.30,1545.70C167.68,1547.26 168.09,1549.01 168.60,1549.50C168.82,1549.71 169.07,1549.81 169.30,1549.70C169.81,1549.46 170.28,1547.65 170.80,1546.40C171.47,1544.79 172.34,1542.89 172.90,1540.80C173.57,1538.29 173.53,1534.59 174.30,1532.30C174.87,1530.60 175.82,1529.63 176.50,1528.10C177.27,1526.37 177.77,1523.92 178.60,1522.40C179.23,1521.25 180.05,1520.67 180.70,1519.60C181.46,1518.35 182.10,1516.72 182.80,1515.30C183.50,1513.89 184.12,1512.32 184.90,1511.10C185.58,1510.03 186.26,1508.41 187.10,1508.30C187.93,1508.19 188.94,1509.81 189.90,1510.40C190.81,1510.96 191.87,1511.01 192.70,1511.80C193.82,1512.87 194.45,1515.43 195.50,1516.80C196.38,1517.95 197.54,1518.40 198.40,1519.60C199.50,1521.13 200.38,1523.55 201.20,1525.50C201.97,1527.35 202.30,1528.92 203.20,1531.00C204.45,1533.91 206.48,1538.16 208.30,1541.20C209.90,1543.88 211.74,1545.90 213.40,1548.40C215.14,1551.02 217.09,1553.91 218.50,1556.60C219.76,1559.01 220.27,1561.76 221.60,1563.70C222.75,1565.38 224.44,1566.15 225.70,1567.80C227.19,1569.76 228.09,1572.60 229.70,1574.90C231.44,1577.38 233.84,1580.11 235.90,1582.10C237.61,1583.75 239.38,1584.61 241.00,1586.20C242.79,1587.96 244.36,1590.39 246.10,1592.30C247.76,1594.12 249.46,1595.84 251.20,1597.40C252.86,1598.89 254.56,1600.28 256.30,1601.50C257.96,1602.67 259.66,1603.47 261.40,1604.60C263.31,1605.84 265.23,1607.26 267.30,1608.70C269.60,1610.31 272.11,1612.33 274.60,1613.80C276.98,1615.21 279.47,1616.19 281.90,1617.40C284.34,1618.62 286.76,1619.88 289.20,1621.10C291.63,1622.31 294.04,1623.61 296.50,1624.70C298.91,1625.77 301.35,1626.75 303.80,1627.60C306.22,1628.44 308.67,1629.07 311.10,1629.80C313.53,1630.53 315.97,1631.27 318.40,1632.00C320.83,1632.73 323.26,1633.52 325.70,1634.20C328.13,1634.88 330.56,1635.53 333.00,1636.10C335.43,1636.66 337.86,1637.18 340.30,1637.60C342.73,1638.02 345.16,1638.28 347.60,1638.60C350.06,1638.92 352.55,1639.15 355.00,1639.50C357.45,1639.85 359.86,1640.58 362.30,1640.70C364.73,1640.81 367.17,1640.40 369.60,1640.20C372.03,1640.00 374.48,1639.91 376.90,1639.50C379.35,1639.08 381.78,1638.38 384.20,1637.70C386.64,1637.01 389.06,1636.15 391.50,1635.40C393.93,1634.65 396.38,1634.03 398.80,1633.20C401.25,1632.36 403.73,1631.62 406.10,1630.40C408.60,1629.12 410.92,1627.02 413.40,1625.60C415.79,1624.23 418.29,1623.32 420.70,1622.00C423.16,1620.65 425.59,1619.16 428.00,1617.60C430.46,1616.00 432.79,1613.85 435.30,1612.50C437.66,1611.23 440.14,1610.49 442.60,1609.60C445.04,1608.72 448.01,1608.37 450.00,1607.20C451.67,1606.22 452.43,1604.32 454.00,1603.50C455.61,1602.66 457.66,1602.69 459.60,1602.30C461.68,1601.88 464.10,1601.45 466.10,1601.10C467.82,1600.80 469.30,1600.57 470.90,1600.30C472.50,1600.03 474.16,1599.17 475.70,1599.50C477.37,1599.86 478.69,1602.55 480.50,1602.70C482.61,1602.88 485.44,1599.52 487.70,1599.50C489.71,1599.48 491.59,1601.07 493.40,1601.90C495.08,1602.67 496.56,1603.77 498.20,1604.30C499.76,1604.81 501.32,1604.59 503.00,1605.10C505.02,1605.71 507.26,1607.05 509.40,1608.00C511.53,1608.95 513.67,1609.81 515.80,1610.80C517.97,1611.81 520.14,1612.93 522.30,1614.00C524.44,1615.06 526.77,1615.99 528.70,1617.20C530.47,1618.31 531.71,1619.86 533.50,1620.90C535.42,1622.02 537.76,1622.70 539.90,1623.60C542.06,1624.50 544.28,1625.25 546.40,1626.30C548.58,1627.38 550.89,1628.96 552.80,1630.00C554.31,1630.82 555.35,1631.32 556.90,1632.10C558.90,1633.10 561.38,1634.30 563.80,1635.50C566.51,1636.85 569.51,1638.49 572.40,1639.80C575.24,1641.09 578.12,1642.20 581.00,1643.30C583.86,1644.40 586.70,1645.60 589.60,1646.40C592.44,1647.19 595.08,1647.68 598.20,1648.10C601.88,1648.60 605.91,1648.75 610.30,1649.00C615.53,1649.30 621.77,1649.57 627.50,1649.70C633.23,1649.83 638.76,1649.72 644.70,1649.80C651.09,1649.88 657.97,1650.07 664.60,1650.20" fill="none" stroke="#e2161e" stroke-width="1.8" stroke-linejoin="round"/>
<path d="M55.20,1655.20C77.13,1655.20 109.61,1655.20 121.00,1655.20C125.00,1655.20 126.85,1655.56 129.10,1655.20C130.78,1654.93 132.11,1654.73 133.40,1653.80C135.02,1652.63 136.42,1650.44 137.60,1648.10C139.13,1645.07 140.03,1640.58 141.10,1636.80C142.16,1633.05 143.02,1629.14 144.00,1625.50C144.92,1622.09 145.98,1618.91 146.80,1615.60C147.61,1612.31 148.17,1608.86 148.90,1605.70C149.57,1602.78 150.33,1600.22 151.00,1597.30C151.73,1594.14 152.30,1590.80 153.10,1587.40C153.96,1583.75 154.87,1577.83 156.00,1576.10C156.44,1575.42 156.82,1575.08 157.40,1575.00C158.15,1574.89 159.51,1576.48 160.20,1576.10C161.26,1575.52 161.19,1571.78 161.60,1569.00C162.18,1565.11 162.60,1560.08 163.00,1554.90C163.49,1548.56 163.85,1541.27 164.20,1533.70C164.60,1524.97 164.80,1514.91 165.20,1505.50C165.60,1496.07 166.09,1485.95 166.60,1477.20C167.04,1469.62 167.51,1462.81 168.00,1456.00C168.45,1449.67 168.77,1443.68 169.40,1437.70C170.01,1431.92 171.00,1426.80 171.70,1420.70C172.52,1413.64 173.19,1405.15 173.90,1397.80C174.56,1390.99 175.15,1384.67 175.80,1378.10C176.45,1371.53 176.92,1364.28 177.80,1358.40C178.52,1353.57 179.13,1348.57 180.40,1345.30C181.25,1343.11 182.23,1341.30 183.50,1340.20C184.52,1339.32 185.88,1338.38 187.00,1338.70C188.63,1339.17 190.30,1342.60 191.60,1345.30C193.30,1348.82 194.28,1353.42 195.50,1358.40C197.07,1364.82 198.60,1374.71 199.80,1380.70C200.61,1384.76 201.22,1387.50 201.90,1390.90C202.58,1394.30 203.23,1397.69 203.90,1401.10C204.57,1404.52 205.24,1407.82 205.90,1411.40C206.61,1415.29 207.29,1419.72 208.00,1423.60C208.65,1427.16 209.32,1430.39 210.00,1433.80C210.69,1437.23 211.37,1440.52 212.10,1444.10C212.90,1447.99 213.73,1452.32 214.60,1456.30C215.44,1460.14 216.25,1463.85 217.20,1467.60C218.15,1471.35 219.28,1475.06 220.30,1478.80C221.32,1482.53 222.21,1486.27 223.30,1490.00C224.41,1493.77 225.64,1497.75 226.90,1501.30C228.05,1504.54 229.37,1507.52 230.50,1510.50C231.56,1513.31 232.57,1516.05 233.50,1518.70C234.36,1521.17 234.95,1523.31 235.90,1525.90C237.05,1529.02 238.63,1532.70 240.00,1536.10C241.37,1539.50 242.59,1542.92 244.10,1546.30C245.65,1549.76 247.50,1553.18 249.20,1556.60C250.90,1560.01 252.52,1563.64 254.30,1566.80C255.93,1569.70 257.39,1572.22 259.40,1574.90C261.64,1577.89 264.68,1581.02 267.30,1583.80C269.74,1586.39 272.14,1588.76 274.60,1591.10C277.00,1593.39 279.43,1595.61 281.90,1597.70C284.30,1599.74 286.74,1601.65 289.20,1603.50C291.61,1605.31 294.06,1606.98 296.50,1608.70C298.93,1610.41 301.31,1612.33 303.80,1613.80C306.18,1615.21 308.69,1616.08 311.10,1617.40C313.56,1618.75 315.94,1620.45 318.40,1621.80C320.81,1623.12 323.25,1624.29 325.70,1625.40C328.11,1626.49 330.55,1627.50 333.00,1628.40C335.42,1629.29 337.86,1630.08 340.30,1630.80C342.72,1631.51 345.16,1632.04 347.60,1632.70C350.06,1633.37 352.55,1634.03 355.00,1634.80C357.45,1635.57 359.85,1636.63 362.30,1637.30C364.71,1637.96 367.16,1638.38 369.60,1638.80C372.03,1639.22 374.47,1639.43 376.90,1639.80C379.34,1640.17 381.77,1640.62 384.20,1641.00C386.63,1641.38 389.06,1641.87 391.50,1642.10C393.93,1642.33 395.95,1642.31 398.80,1642.40C402.83,1642.52 408.53,1642.65 413.40,1642.70C418.27,1642.75 423.13,1642.75 428.00,1642.70C432.87,1642.65 437.93,1642.50 442.60,1642.40C446.90,1642.30 450.98,1642.09 455.00,1642.10C458.80,1642.11 462.21,1642.45 466.10,1642.40C470.40,1642.35 475.48,1641.57 479.70,1641.70C483.40,1641.82 486.85,1642.63 490.10,1642.90C492.96,1643.14 495.51,1643.23 498.20,1643.30C500.87,1643.37 503.54,1643.10 506.20,1643.30C508.87,1643.50 511.52,1644.22 514.20,1644.50C516.89,1644.78 519.61,1644.87 522.30,1645.00C524.97,1645.13 527.64,1645.12 530.30,1645.30C532.97,1645.48 535.62,1645.88 538.30,1646.10C540.99,1646.32 543.71,1646.42 546.40,1646.60C549.08,1646.78 551.42,1646.98 554.40,1647.20C558.17,1647.47 562.61,1647.89 567.20,1648.10C572.53,1648.35 578.74,1648.43 584.50,1648.50C590.24,1648.57 595.97,1648.45 601.70,1648.50C607.43,1648.55 613.17,1648.75 618.90,1648.80C624.63,1648.85 630.36,1648.80 636.10,1648.80C641.86,1648.80 648.26,1648.80 653.40,1648.80C657.54,1648.80 660.87,1648.80 664.60,1648.80" fill="none" stroke="#1a1ac4" stroke-width="2.3" stroke-dasharray="3.3 2.9"/>
<rect x="442.4" y="1181.4" width="216.40" height="43.30" fill="#fff" stroke="#666" stroke-width="1.1"/>
<path d="M450.00,1192.80h40.6" stroke="#e2161e" stroke-width="2.0"/>
<path d="M450.00,1212.80h40.6" stroke="#9090f0" stroke-width="1"/>
<path d="M450.00,1212.80h40.6" stroke="#1a1ac4" stroke-width="2.3" stroke-dasharray="3.3 2.9"/>
<text transform="translate(494.70,1199.60) scale(1,1.16)">Chip With Artifacts</text>
<text transform="translate(494.70,1219.90) scale(1,1.16)">Clean Chip in Same Batch</text>
</svg>
</body></html>
